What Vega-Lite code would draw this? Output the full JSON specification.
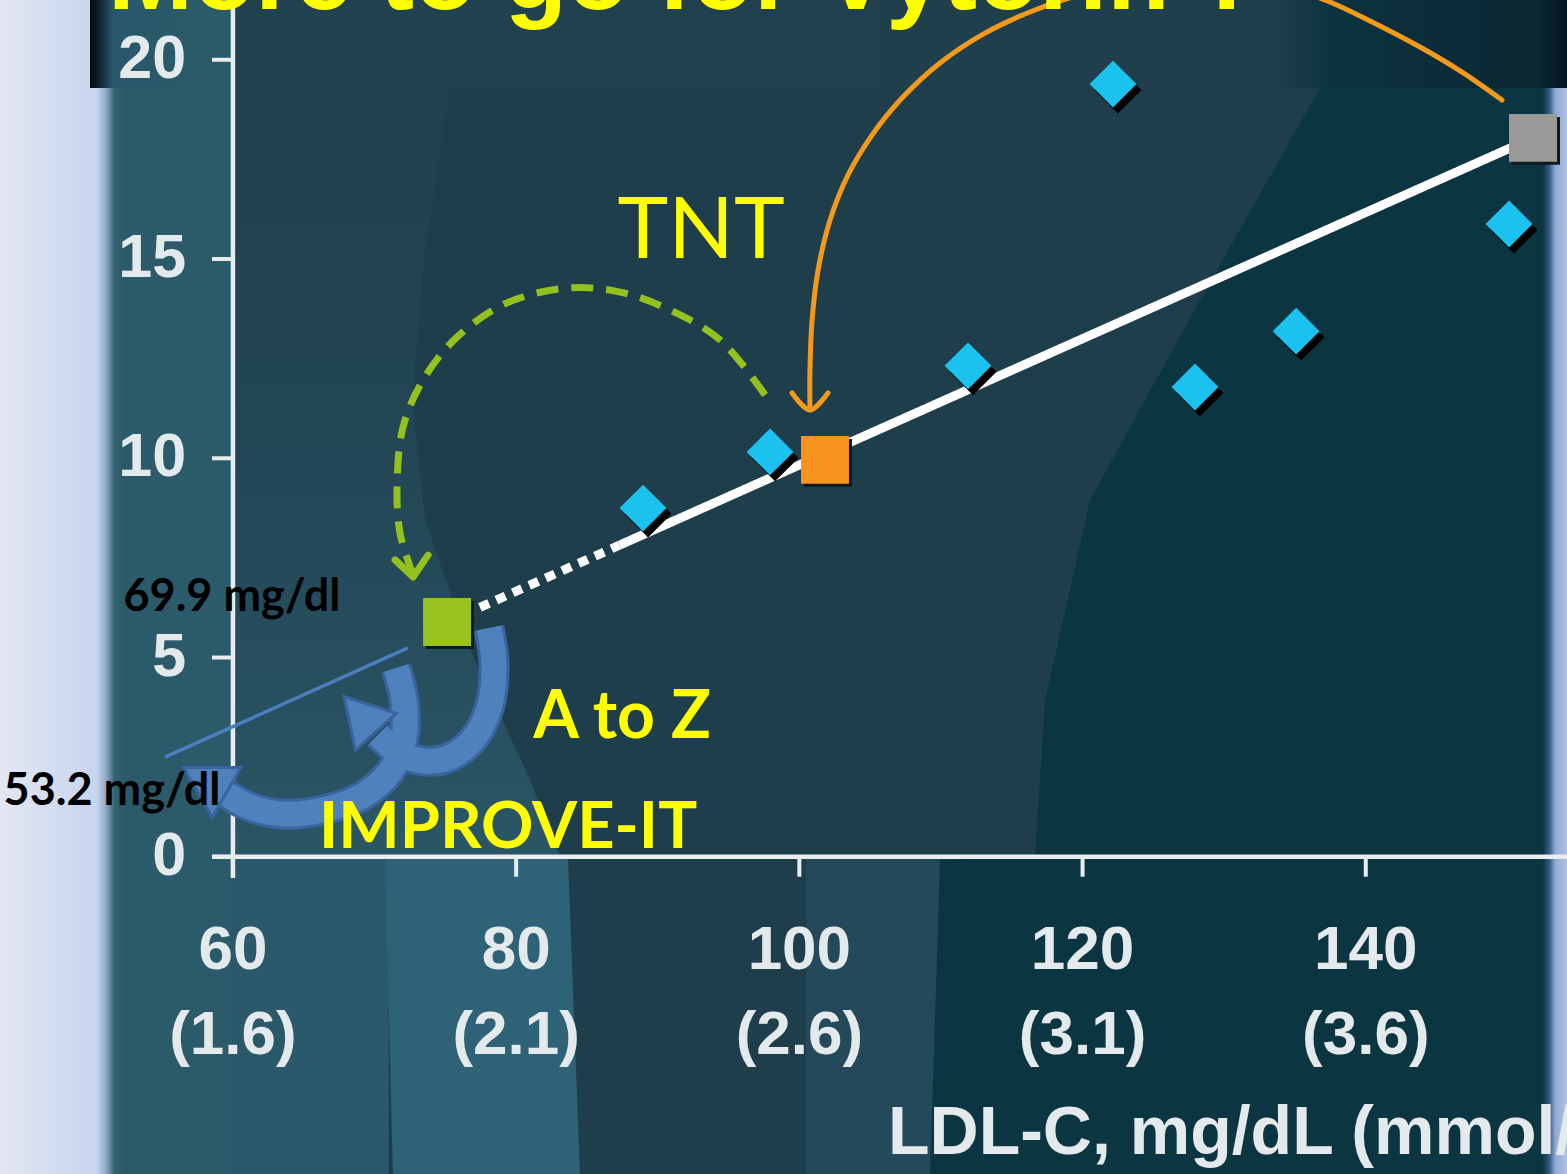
{
  "$schema": "https://vega.github.io/schema/vega-lite/v6.json",
  "width": 1567,
  "height": 1174,
  "autosize": {"type": "none"},
  "padding": 0,
  "background": "#d9e1f1",
  "config": {"view": {"stroke": null}},
  "resolve": {"scale": {"color": "independent"}},
  "datasets": {
    "diamonds": [
      {"ldl": 88.96, "chd": 8.75},
      {"ldl": 97.93, "chd": 10.16},
      {"ldl": 111.91, "chd": 12.32},
      {"ldl": 122.15, "chd": 19.39},
      {"ldl": 127.94, "chd": 11.79},
      {"ldl": 135.08, "chd": 13.19},
      {"ldl": 150.12, "chd": 15.88}
    ],
    "trials": [
      {"trial": "IMPROVE-IT", "ldl": 75.12, "chd": 5.89},
      {"trial": "TNT", "ldl": 101.81, "chd": 9.96},
      {"trial": "Placebo", "ldl": 151.81, "chd": 18.04}
    ],
    "fit": [
      {"seg": "dotted", "ldl": 75.12, "chd": 5.89},
      {"seg": "dotted", "ldl": 87.3, "chd": 7.82},
      {"seg": "solid", "ldl": 87.3, "chd": 7.82},
      {"seg": "solid", "ldl": 151.81, "chd": 18.04}
    ],
    "bglight": [
      {"chd": 19.29, "ldl": 60, "ldl2": 75.33},
      {"chd": 15.23, "ldl": 60, "ldl2": 73.56},
      {"chd": 11.46, "ldl": 60, "ldl2": 72.65},
      {"chd": 8.45, "ldl": 60, "ldl2": 73.56},
      {"chd": 5.19, "ldl": 60, "ldl2": 76.74},
      {"chd": 1.93, "ldl": 60, "ldl2": 80.98},
      {"chd": 0.0, "ldl": 60, "ldl2": 83.1}
    ],
    "bg": [
      {"zone": "dark", "chd": 19.29, "ldl": 136.77, "ldl2": 153.37},
      {"zone": "dark", "chd": 13.97, "ldl": 128.3, "ldl2": 153.37},
      {"zone": "dark", "chd": 8.95, "ldl": 120.53, "ldl2": 153.37},
      {"zone": "dark", "chd": 3.93, "ldl": 117.35, "ldl2": 153.37},
      {"zone": "dark", "chd": 0.0, "ldl": 116.64, "ldl2": 153.37},
      {"zone": "dark", "chd": -0.08, "ldl": 109.93, "ldl2": 153.37},
      {"zone": "dark", "chd": -8, "ldl": 109.23, "ldl2": 153.37},
      {"zone": "band", "chd": 0, "ldl": 70.74, "ldl2": 83.66},
      {"zone": "band", "chd": -8, "ldl": 71.3, "ldl2": 84.51}
    ],
    "arrows": [
      {"path": "tnt", "i": 0, "ldl": 100.75, "chd": 11.21},
      {"path": "tnt", "i": 1, "ldl": 100.75, "chd": 12.22},
      {"path": "tnt", "i": 2, "ldl": 100.9, "chd": 13.47},
      {"path": "tnt", "i": 3, "ldl": 101.32, "chd": 14.72},
      {"path": "tnt", "i": 4, "ldl": 102.17, "chd": 15.98},
      {"path": "tnt", "i": 5, "ldl": 103.44, "chd": 17.11},
      {"path": "tnt", "i": 6, "ldl": 105.13, "chd": 18.11},
      {"path": "tnt", "i": 7, "ldl": 107.25, "chd": 19.04},
      {"path": "tnt", "i": 8, "ldl": 109.93, "chd": 19.92},
      {"path": "tnt", "i": 9, "ldl": 113.11, "chd": 20.67},
      {"path": "tnt", "i": 10, "ldl": 116.64, "chd": 21.25},
      {"path": "tnt", "i": 11, "ldl": 120.53, "chd": 21.7},
      {"path": "tnt", "i": 12, "ldl": 124.76, "chd": 22.0},
      {"path": "tnt", "i": 13, "ldl": 129.0, "chd": 22.1},
      {"path": "tnt", "i": 14, "ldl": 133.24, "chd": 21.95},
      {"path": "tnt", "i": 15, "ldl": 137.12, "chd": 21.5},
      {"path": "tnt", "i": 16, "ldl": 140.16, "chd": 21.0},
      {"path": "tnt", "i": 17, "ldl": 143.83, "chd": 20.32},
      {"path": "tnt", "i": 18, "ldl": 146.8, "chd": 19.69},
      {"path": "tnt", "i": 19, "ldl": 149.62, "chd": 18.99},
      {"path": "tnthead", "i": 0, "ldl": 99.48, "chd": 11.64},
      {"path": "tnthead", "i": 1, "ldl": 100.75, "chd": 11.21},
      {"path": "tnthead", "i": 2, "ldl": 102.02, "chd": 11.64},
      {"path": "az", "i": 0, "ldl": 97.58, "chd": 11.59},
      {"path": "az", "i": 1, "ldl": 94.4, "chd": 12.97},
      {"path": "az", "i": 2, "ldl": 90.87, "chd": 13.72},
      {"path": "az", "i": 3, "ldl": 87.34, "chd": 14.17},
      {"path": "az", "i": 4, "ldl": 83.59, "chd": 14.27},
      {"path": "az", "i": 5, "ldl": 79.36, "chd": 13.9},
      {"path": "az", "i": 6, "ldl": 75.82, "chd": 13.04},
      {"path": "az", "i": 7, "ldl": 73.42, "chd": 11.96},
      {"path": "az", "i": 8, "ldl": 72.01, "chd": 10.78},
      {"path": "az", "i": 9, "ldl": 71.59, "chd": 9.28},
      {"path": "az", "i": 10, "ldl": 71.8, "chd": 8.12},
      {"path": "az", "i": 11, "ldl": 72.72, "chd": 7.07},
      {"path": "azhead", "i": 0, "ldl": 71.45, "chd": 7.45},
      {"path": "azhead", "i": 1, "ldl": 72.72, "chd": 7.02},
      {"path": "azhead", "i": 2, "ldl": 73.78, "chd": 7.57},
      {"path": "imp1", "i": 0, "ldl": 78.08, "chd": 5.74},
      {"path": "imp1", "i": 1, "ldl": 78.44, "chd": 4.81},
      {"path": "imp1", "i": 2, "ldl": 78.15, "chd": 3.81},
      {"path": "imp1", "i": 3, "ldl": 77.1, "chd": 3.01},
      {"path": "imp1", "i": 4, "ldl": 75.33, "chd": 2.5},
      {"path": "imp1", "i": 5, "ldl": 73.56, "chd": 2.4},
      {"path": "imp1", "i": 6, "ldl": 71.8, "chd": 2.6},
      {"path": "imp1", "i": 7, "ldl": 70.25, "chd": 3.06},
      {"path": "imp2", "i": 0, "ldl": 71.52, "chd": 4.74},
      {"path": "imp2", "i": 1, "ldl": 72.08, "chd": 3.93},
      {"path": "imp2", "i": 2, "ldl": 72.08, "chd": 2.98},
      {"path": "imp2", "i": 3, "ldl": 71.09, "chd": 2.13},
      {"path": "imp2", "i": 4, "ldl": 69.11, "chd": 1.52},
      {"path": "imp2", "i": 5, "ldl": 66.29, "chd": 1.17},
      {"path": "imp2", "i": 6, "ldl": 63.47, "chd": 1.07},
      {"path": "imp2", "i": 7, "ldl": 61.06, "chd": 1.27},
      {"path": "imp2", "i": 8, "ldl": 59.44, "chd": 1.6},
      {"path": "thin", "i": 0, "ldl": 55.2, "chd": 2.5},
      {"path": "thin", "i": 1, "ldl": 72.36, "chd": 5.24},
      {"path": "head1", "i": 0, "ldl": 68.97, "chd": 3.58},
      {"path": "head2", "i": 0, "ldl": 58.03, "chd": 1.93}
    ],
    "yticks": [
      {"chd": 0, "label": "0"},
      {"chd": 5, "label": "5"},
      {"chd": 10, "label": "10"},
      {"chd": 15, "label": "15"},
      {"chd": 20, "label": "20"}
    ],
    "xticks": [
      {"ldl": 60, "mgdl": "60", "mmol": "(1.6)"},
      {"ldl": 80, "mgdl": "80", "mmol": "(2.1)"},
      {"ldl": 100, "mgdl": "100", "mmol": "(2.6)"},
      {"ldl": 120, "mgdl": "120", "mmol": "(3.1)"},
      {"ldl": 140, "mgdl": "140", "mmol": "(3.6)"}
    ],
    "one": [{}]
  },
  "layer": [
    {
      "data": {"name": "one"},
      "mark": {"type": "rect", "fill": {"gradient": "linear", "x1": 0, "y1": 0, "x2": 1, "y2": 0, "stops": [
        {"offset": 0, "color": "#e3e7f2"}, {"offset": 1, "color": "#c6d4ee"}]}},
      "encoding": {
        "x": {"datum": 43.55, "type": "quantitative", "scale": {"domain": [43.55, 154.21], "nice": false, "zero": false}, "axis": null},
        "x2": {"datum": 50.61},
        "y": {"datum": 21.7, "type": "quantitative", "scale": {"domain": [-7.96, 21.5], "nice": false, "zero": false}, "axis": null},
        "y2": {"datum": -8}
      }
    },
    {
      "data": {"name": "one"},
      "mark": {"type": "rect", "fill": {"gradient": "linear", "x1": 0, "y1": 0, "x2": 1, "y2": 0, "stops": [
        {"offset": 0, "color": "#03070e"}, {"offset": 0.008, "color": "#0f2431"}, {"offset": 0.03, "color": "#214351"},
        {"offset": 0.8, "color": "#1f3e4b"}, {"offset": 0.84, "color": "#0d3340"}, {"offset": 0.98, "color": "#0a2733"}, {"offset": 1, "color": "#061420"}]}},
      "encoding": {
        "x": {"datum": 49.91, "type": "quantitative", "scale": {"domain": [43.55, 154.21], "nice": false, "zero": false}, "axis": null},
        "x2": {"datum": 154.3},
        "y": {"datum": 21.7, "type": "quantitative", "scale": {"domain": [-7.96, 21.5], "nice": false, "zero": false}, "axis": null},
        "y2": {"datum": 19.29}
      }
    },
    {
      "data": {"name": "one"},
      "mark": {"type": "rect", "fill": "#1f3e4b"},
      "encoding": {
        "x": {"datum": 50.61, "type": "quantitative", "scale": {"domain": [43.55, 154.21], "nice": false, "zero": false}, "axis": null},
        "x2": {"datum": 153.37},
        "y": {"datum": 19.29, "type": "quantitative", "scale": {"domain": [-7.96, 21.5], "nice": false, "zero": false}, "axis": null},
        "y2": {"datum": -8}
      }
    },
    {
      "data": {"name": "one"},
      "mark": {"type": "rect", "fill": {"gradient": "linear", "x1": 0, "y1": 0, "x2": 1, "y2": 0, "stops": [
        {"offset": 0, "color": "#c6d4ee"}, {"offset": 0.07, "color": "#8aa5c3"}, {"offset": 0.13, "color": "#33616f"}, {"offset": 0.2, "color": "#2b5a6a"}, {"offset": 1, "color": "#2b5a6a"}]}},
      "encoding": {
        "x": {"datum": 50.4, "type": "quantitative", "scale": {"domain": [43.55, 154.21], "nice": false, "zero": false}, "axis": null},
        "x2": {"datum": 60},
        "y": {"datum": 19.29, "type": "quantitative", "scale": {"domain": [-7.96, 21.5], "nice": false, "zero": false}, "axis": null},
        "y2": {"datum": -8}
      }
    },
    {
      "data": {"name": "one"},
      "mark": {"type": "rect", "fill": {"gradient": "linear", "x1": 0, "y1": 0, "x2": 1, "y2": 0, "stops": [
        {"offset": 0, "color": "#03070e"}, {"offset": 0.07, "color": "#0f2733"}, {"offset": 0.16, "color": "#29586a"}, {"offset": 1, "color": "#2b5a6a"}]}},
      "encoding": {
        "x": {"datum": 49.91, "type": "quantitative", "scale": {"domain": [43.55, 154.21], "nice": false, "zero": false}, "axis": null},
        "x2": {"datum": 60},
        "y": {"datum": 21.7, "type": "quantitative", "scale": {"domain": [-7.96, 21.5], "nice": false, "zero": false}, "axis": null},
        "y2": {"datum": 19.29}
      }
    },
    {
      "data": {"name": "one"},
      "mark": {"type": "rect", "fill": "#29596a"},
      "encoding": {
        "x": {"datum": 60, "type": "quantitative", "scale": {"domain": [43.55, 154.21], "nice": false, "zero": false}, "axis": null},
        "x2": {"datum": 71.0},
        "y": {"datum": 0, "type": "quantitative", "scale": {"domain": [-7.96, 21.5], "nice": false, "zero": false}, "axis": null},
        "y2": {"datum": -8}
      }
    },
    {
      "data": {"name": "one"},
      "mark": {"type": "rect", "fill": "#23495a"},
      "encoding": {
        "x": {"datum": 100.47, "type": "quantitative", "scale": {"domain": [43.55, 154.21], "nice": false, "zero": false}, "axis": null},
        "x2": {"datum": 109.93},
        "y": {"datum": 0, "type": "quantitative", "scale": {"domain": [-7.96, 21.5], "nice": false, "zero": false}, "axis": null},
        "y2": {"datum": -8}
      }
    },
    {
      "data": {"name": "bglight"},
      "mark": {"type": "area", "orient": "horizontal", "fill": {"gradient": "linear", "x1": 0, "y1": 0, "x2": 0, "y2": 1, "stops": [
        {"offset": 0, "color": "#20404d"}, {"offset": 0.5, "color": "#234756"}, {"offset": 1, "color": "#2a5666"}]}},
      "encoding": {
        "y": {"field": "chd", "type": "quantitative", "scale": {"domain": [-7.96, 21.5], "nice": false, "zero": false}, "axis": null},
        "x": {"field": "ldl", "type": "quantitative", "scale": {"domain": [43.55, 154.21], "nice": false, "zero": false}, "axis": null},
        "x2": {"field": "ldl2"}
      }
    },
    {
      "data": {"name": "bg"},
      "mark": {"type": "area", "orient": "horizontal"},
      "encoding": {
        "y": {"field": "chd", "type": "quantitative", "scale": {"domain": [-7.96, 21.5], "nice": false, "zero": false}, "axis": null},
        "x": {"field": "ldl", "type": "quantitative", "scale": {"domain": [43.55, 154.21], "nice": false, "zero": false}, "axis": null},
        "x2": {"field": "ldl2"},
        "color": {"field": "zone", "type": "nominal", "scale": {"domain": ["dark", "band"], "range": ["#0c3542", "#2e6276"]}, "legend": null}
      }
    },
    {
      "data": {"name": "one"},
      "mark": {"type": "rect", "fill": {"gradient": "linear", "x1": 0, "y1": 0, "x2": 1, "y2": 0, "stops": [
        {"offset": 0, "color": "#0c3542"}, {"offset": 0.55, "color": "#3a5d86"}, {"offset": 1, "color": "#8aa6d2"}]}},
      "encoding": {
        "x": {"datum": 152.5, "type": "quantitative", "scale": {"domain": [43.55, 154.21], "nice": false, "zero": false}, "axis": null},
        "x2": {"datum": 153.37},
        "y": {"datum": 19.29, "type": "quantitative", "scale": {"domain": [-7.96, 21.5], "nice": false, "zero": false}, "axis": null},
        "y2": {"datum": -8}
      }
    },
    {
      "data": {"name": "one"},
      "mark": {"type": "rect", "fill": {"gradient": "linear", "x1": 0, "y1": 0, "x2": 1, "y2": 0, "stops": [
        {"offset": 0, "color": "#8fa9d4"}, {"offset": 1, "color": "#b4c5e6"}]}},
      "encoding": {
        "x": {"datum": 153.37, "type": "quantitative", "scale": {"domain": [43.55, 154.21], "nice": false, "zero": false}, "axis": null},
        "x2": {"datum": 154.3},
        "y": {"datum": 19.29, "type": "quantitative", "scale": {"domain": [-7.96, 21.5], "nice": false, "zero": false}, "axis": null},
        "y2": {"datum": -8}
      }
    },
    {
      "data": {"name": "one"},
      "mark": {"type": "rule", "color": "#e8edef", "strokeWidth": 4.5},
      "encoding": {
        "x": {"datum": 60, "type": "quantitative", "scale": {"domain": [43.55, 154.21], "nice": false, "zero": false}, "axis": null},
        "y": {"datum": -0.53, "type": "quantitative", "scale": {"domain": [-7.96, 21.5], "nice": false, "zero": false}, "axis": null},
        "y2": {"datum": 21.7}
      }
    },
    {
      "data": {"name": "one"},
      "mark": {"type": "rule", "color": "#e8edef", "strokeWidth": 4.5},
      "encoding": {
        "x": {"datum": 58.52, "type": "quantitative", "scale": {"domain": [43.55, 154.21], "nice": false, "zero": false}, "axis": null},
        "x2": {"datum": 154.3},
        "y": {"datum": 0, "type": "quantitative", "scale": {"domain": [-7.96, 21.5], "nice": false, "zero": false}, "axis": null}
      }
    },
    {
      "data": {"name": "yticks"},
      "mark": {"type": "rule", "color": "#e8edef", "strokeWidth": 4},
      "encoding": {
        "x": {"datum": 58.52, "type": "quantitative", "scale": {"domain": [43.55, 154.21], "nice": false, "zero": false}, "axis": null},
        "x2": {"datum": 60},
        "y": {"field": "chd", "type": "quantitative", "scale": {"domain": [-7.96, 21.5], "nice": false, "zero": false}, "axis": null}
      }
    },
    {
      "data": {"name": "xticks"},
      "mark": {"type": "rule", "color": "#e8edef", "strokeWidth": 4},
      "encoding": {
        "x": {"field": "ldl", "type": "quantitative", "scale": {"domain": [43.55, 154.21], "nice": false, "zero": false}, "axis": null},
        "y": {"datum": 0, "type": "quantitative", "scale": {"domain": [-7.96, 21.5], "nice": false, "zero": false}, "axis": null},
        "y2": {"datum": -0.5}
      }
    },
    {
      "data": {"name": "yticks"},
      "mark": {"type": "text", "font": "Liberation Sans", "fontWeight": "bold", "fontSize": 61, "color": "#e4e9eb", "align": "right", "baseline": "middle"},
      "encoding": {
        "x": {"datum": 56.69, "type": "quantitative", "scale": {"domain": [43.55, 154.21], "nice": false, "zero": false}, "axis": null},
        "y": {"field": "chd", "type": "quantitative", "scale": {"domain": [-7.96, 21.5], "nice": false, "zero": false}, "axis": null},
        "text": {"field": "label"}
      }
    },
    {
      "data": {"name": "xticks"},
      "mark": {"type": "text", "font": "Liberation Sans", "fontWeight": "bold", "fontSize": 62, "color": "#e4e9eb", "align": "center", "baseline": "middle"},
      "encoding": {
        "x": {"field": "ldl", "type": "quantitative", "scale": {"domain": [43.55, 154.21], "nice": false, "zero": false}, "axis": null},
        "y": {"datum": -2.34, "type": "quantitative", "scale": {"domain": [-7.96, 21.5], "nice": false, "zero": false}, "axis": null},
        "text": {"field": "mgdl"}
      }
    },
    {
      "data": {"name": "xticks"},
      "mark": {"type": "text", "font": "Liberation Sans", "fontWeight": "bold", "fontSize": 62, "color": "#e4e9eb", "align": "center", "baseline": "middle"},
      "encoding": {
        "x": {"field": "ldl", "type": "quantitative", "scale": {"domain": [43.55, 154.21], "nice": false, "zero": false}, "axis": null},
        "y": {"datum": -4.47, "type": "quantitative", "scale": {"domain": [-7.96, 21.5], "nice": false, "zero": false}, "axis": null},
        "text": {"field": "mmol"}
      }
    },
    {
      "data": {"name": "one"},
      "mark": {"type": "text", "text": "LDL-C, mg/dL (mmol/L)", "font": "Liberation Sans", "fontWeight": "bold", "fontSize": 68, "color": "#e4e9eb", "align": "left", "baseline": "alphabetic"},
      "encoding": {
        "x": {"datum": 106.26, "type": "quantitative", "scale": {"domain": [43.55, 154.21], "nice": false, "zero": false}, "axis": null},
        "y": {"datum": -7.45, "type": "quantitative", "scale": {"domain": [-7.96, 21.5], "nice": false, "zero": false}, "axis": null}
      }
    },
    {
      "data": {"name": "fit"},
      "mark": {"type": "line", "color": "#ffffff", "strokeWidth": 9, "strokeCap": "butt"},
      "encoding": {
        "x": {"field": "ldl", "type": "quantitative", "scale": {"domain": [43.55, 154.21], "nice": false, "zero": false}, "axis": null},
        "y": {"field": "chd", "type": "quantitative", "scale": {"domain": [-7.96, 21.5], "nice": false, "zero": false}, "axis": null},
        "strokeDash": {"field": "seg", "type": "nominal", "scale": {"domain": ["solid", "dotted"], "range": [[1, 0], [10, 8]]}, "legend": null}
      }
    },
    {
      "data": {"name": "diamonds"},
      "mark": {"type": "point", "shape": "diamond", "filled": true, "size": 2200, "color": "#000000", "opacity": 1, "xOffset": 5, "yOffset": 6},
      "encoding": {
        "x": {"field": "ldl", "type": "quantitative", "scale": {"domain": [43.55, 154.21], "nice": false, "zero": false}, "axis": null},
        "y": {"field": "chd", "type": "quantitative", "scale": {"domain": [-7.96, 21.5], "nice": false, "zero": false}, "axis": null}
      }
    },
    {
      "data": {"name": "diamonds"},
      "mark": {"type": "point", "shape": "diamond", "filled": true, "size": 2200, "color": "#1cc2ef", "opacity": 1},
      "encoding": {
        "x": {"field": "ldl", "type": "quantitative", "scale": {"domain": [43.55, 154.21], "nice": false, "zero": false}, "axis": null},
        "y": {"field": "chd", "type": "quantitative", "scale": {"domain": [-7.96, 21.5], "nice": false, "zero": false}, "axis": null}
      }
    },
    {
      "data": {"name": "trials"},
      "mark": {"type": "point", "shape": "square", "filled": true, "size": 2300, "color": "#0d1a20", "opacity": 1, "xOffset": 3, "yOffset": 3},
      "encoding": {
        "x": {"field": "ldl", "type": "quantitative", "scale": {"domain": [43.55, 154.21], "nice": false, "zero": false}, "axis": null},
        "y": {"field": "chd", "type": "quantitative", "scale": {"domain": [-7.96, 21.5], "nice": false, "zero": false}, "axis": null}
      }
    },
    {
      "data": {"name": "trials"},
      "mark": {"type": "point", "shape": "square", "filled": true, "size": 2300, "opacity": 1},
      "encoding": {
        "x": {"field": "ldl", "type": "quantitative", "scale": {"domain": [43.55, 154.21], "nice": false, "zero": false}, "axis": null},
        "y": {"field": "chd", "type": "quantitative", "scale": {"domain": [-7.96, 21.5], "nice": false, "zero": false}, "axis": null},
        "fill": {"field": "trial", "type": "nominal", "scale": {"domain": ["IMPROVE-IT", "TNT", "Placebo"], "range": ["#98c21d", "#f7931e", "#9c9a98"]}, "legend": null}
      }
    },
    {
      "data": {"name": "arrows"},
      "transform": [{"filter": "datum.path === 'tnt' || datum.path === 'tnthead'"}],
      "mark": {"type": "line", "color": "#f39a1c", "strokeWidth": 5, "interpolate": "catmull-rom", "strokeCap": "round", "strokeJoin": "round"},
      "encoding": {
        "x": {"field": "ldl", "type": "quantitative", "scale": {"domain": [43.55, 154.21], "nice": false, "zero": false}, "axis": null},
        "y": {"field": "chd", "type": "quantitative", "scale": {"domain": [-7.96, 21.5], "nice": false, "zero": false}, "axis": null},
        "detail": {"field": "path"},
        "order": {"field": "i", "type": "quantitative"}
      }
    },
    {
      "data": {"name": "arrows"},
      "transform": [{"filter": "datum.path === 'az'"}],
      "mark": {"type": "line", "color": "#94c11f", "strokeWidth": 7, "interpolate": "catmull-rom", "strokeDash": [22, 13], "strokeCap": "butt"},
      "encoding": {
        "x": {"field": "ldl", "type": "quantitative", "scale": {"domain": [43.55, 154.21], "nice": false, "zero": false}, "axis": null},
        "y": {"field": "chd", "type": "quantitative", "scale": {"domain": [-7.96, 21.5], "nice": false, "zero": false}, "axis": null},
        "order": {"field": "i", "type": "quantitative"}
      }
    },
    {
      "data": {"name": "arrows"},
      "transform": [{"filter": "datum.path === 'azhead'"}],
      "mark": {"type": "line", "color": "#94c11f", "strokeWidth": 7, "strokeCap": "round", "strokeJoin": "round"},
      "encoding": {
        "x": {"field": "ldl", "type": "quantitative", "scale": {"domain": [43.55, 154.21], "nice": false, "zero": false}, "axis": null},
        "y": {"field": "chd", "type": "quantitative", "scale": {"domain": [-7.96, 21.5], "nice": false, "zero": false}, "axis": null},
        "order": {"field": "i", "type": "quantitative"}
      }
    },
    {
      "data": {"name": "arrows"},
      "transform": [{"filter": "datum.path === 'imp1' || datum.path === 'imp2'"}],
      "mark": {"type": "line", "color": "#3a64a0", "strokeWidth": 31, "interpolate": "catmull-rom", "strokeCap": "butt"},
      "encoding": {
        "x": {"field": "ldl", "type": "quantitative", "scale": {"domain": [43.55, 154.21], "nice": false, "zero": false}, "axis": null},
        "y": {"field": "chd", "type": "quantitative", "scale": {"domain": [-7.96, 21.5], "nice": false, "zero": false}, "axis": null},
        "detail": {"field": "path"},
        "order": {"field": "i", "type": "quantitative"}
      }
    },
    {
      "data": {"name": "arrows"},
      "transform": [{"filter": "datum.path === 'imp1' || datum.path === 'imp2'"}],
      "mark": {"type": "line", "color": "#4f81bd", "strokeWidth": 25, "interpolate": "catmull-rom", "strokeCap": "butt"},
      "encoding": {
        "x": {"field": "ldl", "type": "quantitative", "scale": {"domain": [43.55, 154.21], "nice": false, "zero": false}, "axis": null},
        "y": {"field": "chd", "type": "quantitative", "scale": {"domain": [-7.96, 21.5], "nice": false, "zero": false}, "axis": null},
        "detail": {"field": "path"},
        "order": {"field": "i", "type": "quantitative"}
      }
    },
    {
      "data": {"name": "arrows"},
      "transform": [{"filter": "datum.path === 'head1'"}],
      "mark": {"type": "point", "shape": "triangle-up", "filled": true, "size": 3000, "angle": 318, "fill": "#4f81bd", "stroke": "#3a64a0", "strokeWidth": 3, "opacity": 1},
      "encoding": {
        "x": {"field": "ldl", "type": "quantitative", "scale": {"domain": [43.55, 154.21], "nice": false, "zero": false}, "axis": null},
        "y": {"field": "chd", "type": "quantitative", "scale": {"domain": [-7.96, 21.5], "nice": false, "zero": false}, "axis": null}
      }
    },
    {
      "data": {"name": "arrows"},
      "transform": [{"filter": "datum.path === 'head2'"}],
      "mark": {"type": "point", "shape": "triangle-up", "filled": true, "size": 3300, "angle": 300, "fill": "#4f81bd", "stroke": "#3a64a0", "strokeWidth": 3, "opacity": 1},
      "encoding": {
        "x": {"field": "ldl", "type": "quantitative", "scale": {"domain": [43.55, 154.21], "nice": false, "zero": false}, "axis": null},
        "y": {"field": "chd", "type": "quantitative", "scale": {"domain": [-7.96, 21.5], "nice": false, "zero": false}, "axis": null}
      }
    },
    {
      "data": {"name": "arrows"},
      "transform": [{"filter": "datum.path === 'thin'"}],
      "mark": {"type": "line", "color": "#4a7ebd", "strokeWidth": 3.5},
      "encoding": {
        "x": {"field": "ldl", "type": "quantitative", "scale": {"domain": [43.55, 154.21], "nice": false, "zero": false}, "axis": null},
        "y": {"field": "chd", "type": "quantitative", "scale": {"domain": [-7.96, 21.5], "nice": false, "zero": false}, "axis": null},
        "order": {"field": "i", "type": "quantitative"}
      }
    },
    {
      "data": {"name": "one"},
      "mark": {"type": "text", "text": "TNT", "font": "Lato", "fontSize": 86, "color": "#ffff00", "align": "center", "baseline": "alphabetic"},
      "encoding": {
        "x": {"datum": 93.06, "type": "quantitative", "scale": {"domain": [43.55, 154.21], "nice": false, "zero": false}, "axis": null},
        "y": {"datum": 15.03, "type": "quantitative", "scale": {"domain": [-7.96, 21.5], "nice": false, "zero": false}, "axis": null}
      }
    },
    {
      "data": {"name": "one"},
      "mark": {"type": "text", "text": "A to Z", "font": "Lato", "fontWeight": "bold", "fontSize": 66, "color": "#ffff00", "align": "center", "baseline": "alphabetic"},
      "encoding": {
        "x": {"datum": 87.48, "type": "quantitative", "scale": {"domain": [43.55, 154.21], "nice": false, "zero": false}, "axis": null},
        "y": {"datum": 2.98, "type": "quantitative", "scale": {"domain": [-7.96, 21.5], "nice": false, "zero": false}, "axis": null}
      }
    },
    {
      "data": {"name": "one"},
      "mark": {"type": "text", "text": "IMPROVE-IT", "font": "Lato", "fontWeight": "bold", "fontSize": 65, "color": "#ffff00", "align": "center", "baseline": "alphabetic"},
      "encoding": {
        "x": {"datum": 79.43, "type": "quantitative", "scale": {"domain": [43.55, 154.21], "nice": false, "zero": false}, "axis": null},
        "y": {"datum": 0.22, "type": "quantitative", "scale": {"domain": [-7.96, 21.5], "nice": false, "zero": false}, "axis": null}
      }
    },
    {
      "data": {"name": "one"},
      "mark": {"type": "text", "text": "69.9 mg/dl", "font": "Lato", "fontWeight": "bold", "fontSize": 45, "color": "#000000", "align": "center", "baseline": "alphabetic"},
      "encoding": {
        "x": {"datum": 59.93, "type": "quantitative", "scale": {"domain": [43.55, 154.21], "nice": false, "zero": false}, "axis": null},
        "y": {"datum": 6.17, "type": "quantitative", "scale": {"domain": [-7.96, 21.5], "nice": false, "zero": false}, "axis": null}
      }
    },
    {
      "data": {"name": "one"},
      "mark": {"type": "text", "text": "53.2 mg/dl", "font": "Lato", "fontWeight": "bold", "fontSize": 45, "color": "#000000", "align": "center", "baseline": "alphabetic"},
      "encoding": {
        "x": {"datum": 51.46, "type": "quantitative", "scale": {"domain": [43.55, 154.21], "nice": false, "zero": false}, "axis": null},
        "y": {"datum": 1.3, "type": "quantitative", "scale": {"domain": [-7.96, 21.5], "nice": false, "zero": false}, "axis": null}
      }
    },
    {
      "data": {"name": "one"},
      "mark": {"type": "text", "text": "More to go for Vytorin ?", "font": "Liberation Sans", "fontWeight": "bold", "fontSize": 102, "color": "#ffff00", "align": "left", "baseline": "alphabetic"},
      "encoding": {
        "x": {"datum": 51.18, "type": "quantitative", "scale": {"domain": [43.55, 154.21], "nice": false, "zero": false}, "axis": null},
        "y": {"datum": 21.27, "type": "quantitative", "scale": {"domain": [-7.96, 21.5], "nice": false, "zero": false}, "axis": null}
      }
    }
  ]
}
